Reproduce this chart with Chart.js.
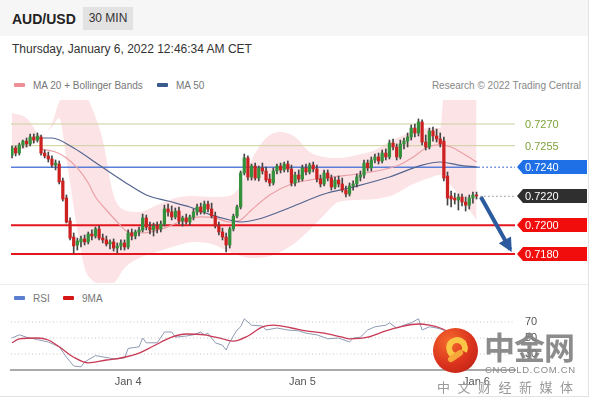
<!DOCTYPE html>
<html>
<head>
<meta charset="utf-8">
<title>AUD/USD 30 MIN</title>
<script src="https://cdn.jsdelivr.net/npm/chart.js@4.4.1/dist/chart.umd.min.js"></script>
<style>
body{margin:0;width:590px;height:400px;position:relative;overflow:hidden;background:#fff;font-family:"Liberation Sans",Arial,sans-serif;color:#333}
.abs{position:absolute;white-space:nowrap}
#frame{left:0;top:0;width:588px;height:396px;border-right:1px solid #e3e3e3;border-bottom:1px solid #e3e3e3}
#head{left:0;top:0;width:588px;height:36px;background:#f6f6f6}
#pair{left:12px;top:11px;font-size:14px;font-weight:bold;color:#222}
#tf{left:83px;top:7px;width:50px;height:23px;line-height:23px;text-align:center;background:#e2e2e2;font-size:12px;color:#333}
#date{left:12px;top:42px;font-size:12px;color:#333}
.lg{font-size:10px;color:#777;line-height:12px}
.sw{display:inline-block;width:11px;height:4px;border-radius:1px;margin-right:8px;vertical-align:middle;position:relative;top:-1px}
#sep{left:0;top:284px;width:588px;height:1px;background:#ececec}
canvas{position:absolute;left:0}
#main{top:100px}
#rsi{top:306px}
#logo{left:433px;top:328px;width:45px;height:45px;border-radius:50%;background:radial-gradient(circle at 35% 30%,#f46a2c 0%,#da321d 55%,#b51d13 100%)}
#swirl{position:absolute;left:13px;top:9px;width:10px;height:10px;border:6px solid #fbc546;border-bottom-color:transparent;border-radius:50%;transform:rotate(-20deg)}
#tail{position:absolute;left:14px;top:25px;width:17px;height:6px;border-radius:3px;background:#f6a93a;transform:rotate(-35deg)}
#wm1{left:484px;top:330px;font-size:31px;line-height:31px;font-weight:bold;letter-spacing:-1px;color:rgba(128,128,128,0.9);font-family:"Noto Sans CJK SC",sans-serif}
#wm2{left:485px;top:364px;font-size:9.5px;letter-spacing:0.7px;color:#8a8a8a}
#wm3{left:437px;top:377px;font-size:13px;letter-spacing:7.5px;color:#999;font-family:"Noto Sans CJK SC",sans-serif}
</style>
</head>
<body>
<div id="frame" class="abs"></div>
<div id="head" class="abs"></div>
<div id="pair" class="abs">AUD/USD</div>
<div id="tf" class="abs">30 MIN</div>
<div id="date" class="abs">Thursday, January 6, 2022 12:46:34 AM CET</div>
<div class="abs lg" style="left:14px;top:80px"><span class="sw" style="background:#ee8f98"></span>MA 20 + Bollinger Bands</div>
<div class="abs lg" style="left:157px;top:80px"><span class="sw" style="background:#3b5b8f"></span>MA 50</div>
<div class="abs lg" style="right:9px;top:80px;color:#888">Research © 2022 Trading Central</div>
<canvas id="main" width="590" height="183"></canvas>
<div id="sep" class="abs"></div>
<div class="abs lg" style="left:14px;top:293px"><span class="sw" style="background:#5a7fd0"></span>RSI</div>
<div class="abs lg" style="left:63px;top:293px"><span class="sw" style="background:#d41616"></span>9MA</div>
<canvas id="rsi" width="590" height="90"></canvas>
<div id="logo" class="abs"><div id="swirl"></div><div id="tail"></div></div>
<div id="wm1" class="abs">中金网</div>
<div id="wm2" class="abs">CNGOLD.COM.CN</div>
<div id="wm3" class="abs">中文财经新媒体</div>
<script>
// 30 min candles, Jan 3 ~08:00 -> Jan 6 00:00 (index = candle number)
const open=[
.72485,.72534,.72499,.72555,.72582,.72562,.72610,.72589,.72610,.72499,
.72479,.72458,.72416,.72423,.72306,.72188,.72029,.71918,.71863,.71884,
.71905,.71884,.71939,.71925,.71974,.71911,.71898,.71870,.71884,.71842,
.71856,.71877,.71849,.71946,.71925,.71953,.71967,.72050,.71987,.71967,
.71994,.71974,.72008,.72112,.72091,.72057,.72098,.72029,.72050,.72022,
.72057,.72091,.72126,.72091,.72146,.72112,.72063,.71994,.71953,.71918,
.71863,.71974,.72063,.72126,.72361,.72465,.72333,.72409,.72326,.72396,
.72375,.72319,.72292,.72375,.72409,.72382,.72423,.72389,.72292,.72347,
.72319,.72396,.72368,.72416,.72389,.72319,.72285,.72361,.72326,.72264,
.72312,.72285,.72243,.72216,.72271,.72285,.72333,.72347,.72430,.72396,
.72451,.72472,.72444,.72499,.72472,.72568,.72541,.72472,.72562,.72582,
.72610,.72672,.72638,.72714,.72575,.72541,.72652,.72617,.72596,.72582,
.72340,.72202,.72188,.72174,.72195,.72160,.72139,.72188,.72209];
const high=[
.72548,.72548,.72568,.72589,.72603,.72631,.72631,.72638,.72624,.72520,
.72506,.72479,.72451,.72444,.72326,.72209,.72050,.71946,.71911,.71925,
.71932,.71953,.71967,.71987,.71994,.71939,.71925,.71898,.71905,.71877,
.71898,.71898,.71967,.71974,.71967,.71987,.72077,.72070,.72022,.72015,
.72022,.72029,.72139,.72146,.72133,.72119,.72126,.72063,.72077,.72070,
.72112,.72146,.72153,.72167,.72167,.72153,.72091,.72022,.71980,.71946,
.71987,.72077,.72139,.72375,.72492,.72479,.72423,.72430,.72409,.72430,
.72402,.72354,.72396,.72423,.72430,.72437,.72444,.72416,.72368,.72382,
.72416,.72423,.72430,.72437,.72416,.72347,.72382,.72382,.72347,.72333,
.72340,.72326,.72271,.72292,.72306,.72354,.72375,.72451,.72451,.72472,
.72492,.72499,.72520,.72527,.72589,.72596,.72562,.72589,.72603,.72638,
.72693,.72700,.72735,.72728,.72624,.72672,.72679,.72665,.72638,.72610,
.72368,.72236,.72222,.72216,.72216,.72195,.72209,.72229,.72229];
const low=[
.72465,.72479,.72485,.72534,.72541,.72548,.72568,.72575,.72485,.72465,
.72437,.72402,.72382,.72285,.72167,.72015,.71898,.71808,.71828,.71849,
.71863,.71870,.71898,.71911,.71898,.71877,.71856,.71835,.71821,.71808,
.71828,.71828,.71835,.71898,.71905,.71925,.71953,.71967,.71939,.71925,
.71946,.71953,.71994,.72063,.72036,.72043,.72008,.71994,.72008,.72001,
.72036,.72070,.72077,.72077,.72091,.72050,.71980,.71932,.71898,.71815,
.71842,.71960,.72050,.72112,.72347,.72312,.72312,.72312,.72306,.72354,
.72299,.72271,.72278,.72354,.72361,.72368,.72368,.72271,.72271,.72299,
.72306,.72347,.72354,.72368,.72299,.72264,.72271,.72306,.72243,.72250,
.72264,.72229,.72195,.72202,.72243,.72264,.72306,.72326,.72375,.72375,
.72430,.72423,.72430,.72451,.72458,.72520,.72451,.72458,.72527,.72541,
.72589,.72610,.72617,.72555,.72520,.72527,.72582,.72575,.72541,.72306,
.72139,.72126,.72146,.72105,.72133,.72098,.72112,.72153,.72181];
const close=[
.72534,.72499,.72555,.72582,.72562,.72610,.72589,.72617,.72499,.72479,
.72458,.72416,.72430,.72299,.72181,.72022,.71911,.71856,.71891,.71905,
.71884,.71939,.71925,.71974,.71911,.71898,.71870,.71884,.71842,.71856,
.71877,.71849,.71946,.71925,.71953,.71967,.72050,.71987,.71967,.71994,
.71974,.72008,.72112,.72091,.72057,.72098,.72029,.72050,.72022,.72057,
.72091,.72126,.72091,.72146,.72112,.72063,.71994,.71953,.71918,.71863,
.71974,.72063,.72126,.72361,.72465,.72333,.72409,.72326,.72396,.72375,
.72312,.72292,.72375,.72409,.72382,.72423,.72389,.72292,.72347,.72319,
.72396,.72368,.72416,.72389,.72319,.72285,.72361,.72326,.72264,.72312,
.72285,.72243,.72216,.72271,.72285,.72333,.72347,.72430,.72396,.72451,
.72472,.72444,.72499,.72472,.72568,.72541,.72472,.72562,.72582,.72610,
.72672,.72638,.72714,.72575,.72541,.72652,.72617,.72596,.72562,.72326,
.72188,.72181,.72174,.72195,.72160,.72139,.72188,.72209,.72202];

// MA 20, MA 50 and Bollinger bands, read at these candle numbers
const ma20Idx=[8,12,15,18,21,23,26,29,32,36,42,46,52,56,60,63,66,71,77,82,88,97,106,111,114,118,121,124,128];
const ma20=[.72527,.72506,.72465,.72396,.72292,.72195,.72105,.72022,.71953,.71946,.71980,.72022,.72057,.72050,.72022,.72036,.72105,.72209,.72285,.72312,.72333,.72361,.72409,.72479,.72534,.72555,.72541,.72499,.72437];
const ma50Idx=[7,11,17,24,31,37,43,49,55,60,63,68,77,86,94,104,113,118,123,128];
const ma50=[.72603,.72603,.72534,.72416,.72299,.72209,.72167,.72126,.72070,.72036,.72022,.72043,.72126,.72216,.72264,.72333,.72416,.72437,.72416,.72402];
const bandIdx=[0,4,8,11,13,15,18,20,22,25,28,31,35,40,45,50,55,60,63,66,70,74,78,82,86,90,95,100,105,110,115,118,119,122,125,128];
const bandUp=[.72776,.72742,.72624,.72700,.72852,.72900,.72900,.72900,.72811,.72589,.72209,.72105,.72091,.72139,.72188,.72202,.72195,.72202,.72278,.72451,.72603,.72645,.72610,.72506,.72472,.72465,.72485,.72520,.72589,.72645,.72672,.72672,.72900,.72900,.72900,.72900];
const bandLo=[.72520,.72534,.72610,.72680,.72742,.72451,.71967,.71704,.71621,.71590,.71600,.71704,.71773,.71815,.71856,.71884,.71870,.71815,.71787,.71773,.71780,.71815,.71877,.71967,.72070,.72160,.72174,.72181,.72209,.72278,.72326,.72347,.72326,.72243,.72139,.72036];

// key levels and the projected move
const levels=[0.7270,0.7255,0.7240,0.7220,0.7200,0.7180];
const levelKind=['res','res','pivot','last','sup','sup'];
const arrowFrom=[129.2,0.72195];
const arrowTo=[137.3,0.71832];

// RSI (14) and its 9 period average
const rsiIdx=[0,2,4,7,10,13,15,17,19,20,23,28,31,32,35,36,37,40,42,44,45,48,50,52,53,54,56,58,59,60,62,63,64,66,69,70,73,76,79,81,84,87,90,93,94,96,98,100,103,104,106,108,110,112,113,115,117,119,120,122,124,126,128];
const rsiVal=[50,54,51,48,45,39,26,15,14,20,28,24,25,37,39,50,44,44,57.5,57.5,51,52.5,54,57.5,54,56,44,41,35,45,60,64,74,66,65,60,62.5,60,59,56,54,49,50,45,50,51,60,64,66,69,62.5,66,69,74,60,64,62.5,60,30,28,32,31,33];
const ma9Idx=[0,2,7,10,13,17,21,26,30,35,39,44,48,53,58,61,65,69,72,77,81,86,91,93,98,103,107,112,115,118,121,124,128];
const ma9Val=[44,49,50,47.5,39,26,19,22.5,25,31,40,51,55,54,49,46,52.5,64,66,62.5,59,56,51,49,51,59,64,67.5,66,62.5,56,48,42];
const rsiLevels=[70,50,30];

const dayTicks=[32,80,128];
const dayLabels=['Jan 4','Jan 5','Jan 6'];

const xMin=-0.28, xMax=138.6;
const FONT='"Liberation Sans", Arial, sans-serif';
const kindStyle={
  res:{line:'#cdcf9f',width:1,text:'#7ea33c'},
  pivot:{line:'#5a7fd8',width:1.5,tag:'#1f6fe6',dots:'#5a7fd8'},
  last:{line:'#8a8a8a',width:1,tag:'#2f2f2f'},
  sup:{line:'#e3161e',width:2,tag:'#f20d0d'}
};

const pts=(xs,ys)=>xs.map((x,i)=>({x,y:ys[i]}));
const lastI=close.length-1;

const levelSets=[];
levels.forEach((lv,i)=>{
  const st=kindStyle[levelKind[i]];
  const seg=(a,b,dash,col)=>levelSets.push({type:'line',data:[{x:a,y:lv},{x:b,y:lv}],borderColor:col||st.line,borderWidth:st.width,borderDash:dash,pointRadius:0,order:8});
  if(levelKind[i]==='pivot'){seg(xMin,lastI+0.5,[]);seg(lastI+0.5,xMax,[1.5,2.5],st.dots);}
  else if(levelKind[i]==='last') seg(lastI+1,xMax,[1.5,2.5]);
  else seg(xMin,xMax,[]);
});

const tagPlugin={id:'tags',afterDraw(chart){
  const {ctx,chartArea:a,scales:{x,y}}=chart;
  ctx.save();
  ctx.font='11px '+FONT;
  ctx.textBaseline='middle';
  levels.forEach((lv,i)=>{
    const st=kindStyle[levelKind[i]], py=Math.round(y.getPixelForValue(lv)), x0=a.right+2;
    if(st.tag){
      ctx.fillStyle=st.tag;
      ctx.beginPath();
      ctx.moveTo(x0,py);ctx.lineTo(x0+6,py-7);ctx.lineTo(x0+70,py-7);ctx.lineTo(x0+70,py+7);ctx.lineTo(x0+6,py+7);
      ctx.closePath();ctx.fill();
      ctx.fillStyle='#fff';
    } else ctx.fillStyle=st.text;
    ctx.fillText(lv.toFixed(4),x0+8,py+0.5);
  });
  // arrow head
  const ax=x.getPixelForValue(arrowTo[0]), ay=y.getPixelForValue(arrowTo[1]);
  const bx=x.getPixelForValue(arrowFrom[0]), by=y.getPixelForValue(arrowFrom[1]);
  const ang=Math.atan2(ay-by,ax-bx), c=Math.cos(ang), s=Math.sin(ang), L=14, W=7;
  const tx=ax+c*3, ty=ay+s*3;
  ctx.fillStyle='#2b5a9e';
  ctx.beginPath();
  ctx.moveTo(tx,ty);
  ctx.lineTo(tx-L*c+W*s,ty-L*s-W*c);
  ctx.lineTo(tx-L*c-W*s,ty-L*s+W*c);
  ctx.closePath();ctx.fill();
  ctx.restore();
}};

new Chart(document.getElementById('main'),{
  type:'bar',
  data:{datasets:[
    {type:'line',data:pts(bandIdx,bandUp),borderWidth:0,pointRadius:0,fill:false,cubicInterpolationMode:'monotone',order:10},
    {type:'line',data:pts(bandIdx,bandLo),borderWidth:0,pointRadius:0,fill:'-1',backgroundColor:'rgba(240,120,130,0.2)',cubicInterpolationMode:'monotone',order:9},
    ...levelSets,
    {type:'line',data:pts(ma20Idx,ma20),borderColor:'#eaa0a6',borderWidth:1.2,pointRadius:0,cubicInterpolationMode:'monotone',order:6},
    {type:'line',data:pts(ma50Idx,ma50),borderColor:'#53658f',borderWidth:1.2,pointRadius:0,cubicInterpolationMode:'monotone',order:5},
    {data:low.map((l,i)=>({x:i,y:[l,high[i]]})),backgroundColor:'#454545',barThickness:1,grouped:false,order:4},
    {data:open.map((o,i)=>({x:i,y:[o,close[i]]})),backgroundColor:close.map((c,i)=>c>=open[i]?'#33913c':'#cd2121'),barThickness:2.6,grouped:false,order:3},
    {type:'line',data:[{x:arrowFrom[0],y:arrowFrom[1]},{x:arrowTo[0],y:arrowTo[1]}],borderColor:'#2b5a9e',borderWidth:4,pointRadius:0,order:1}
  ]},
  options:{
    responsive:false,animation:false,
    layout:{padding:{left:11,right:75,top:0,bottom:0}},
    plugins:{legend:{display:false},tooltip:{enabled:false}},
    scales:{
      x:{type:'linear',min:xMin,max:xMax,offset:false,display:false},
      y:{type:'linear',min:0.716,max:0.72866,display:false}
    }
  },
  plugins:[tagPlugin]
});

const rsiLabels={id:'rsiLabels',afterDraw(chart){
  const {ctx,chartArea:a,scales:{y}}=chart;
  ctx.save();
  ctx.font='11px '+FONT;ctx.fillStyle='#555';ctx.textBaseline='middle';
  rsiLevels.forEach(v=>ctx.fillText(String(v),a.right+10,y.getPixelForValue(v)));
  ctx.restore();
}};

new Chart(document.getElementById('rsi'),{
  type:'line',
  data:{datasets:[
    ...rsiLevels.map(v=>({data:[{x:xMin,y:v},{x:xMax,y:v}],borderColor:'#c6c6c6',borderWidth:1,borderDash:[1,2.5],pointRadius:0,order:3})),
    {data:pts(rsiIdx,rsiVal),borderColor:'#8e9bb3',borderWidth:1,pointRadius:0,order:2},
    {data:pts(ma9Idx,ma9Val),borderColor:'#c83a55',borderWidth:1.3,pointRadius:0,cubicInterpolationMode:'monotone',order:1}
  ]},
  options:{
    responsive:false,animation:false,
    layout:{padding:{left:11,right:75,top:0,bottom:2.8}},
    plugins:{legend:{display:false},tooltip:{enabled:false}},
    scales:{
      x:{type:'linear',min:xMin,max:xMax,offset:false,
        grid:{display:false,drawTicks:false},
        border:{display:true,color:'#aaaaaa',width:2},
        afterBuildTicks:s=>{s.ticks=dayTicks.map(v=>({value:v}));},
        ticks:{autoSkip:false,maxRotation:0,padding:5,color:'#555',font:{size:11,family:FONT},
          callback:v=>dayLabels[dayTicks.indexOf(v)]||''}},
      y:{type:'linear',min:10,max:90,display:false}
    }
  },
  plugins:[rsiLabels]
});
</script>
</body>
</html>
